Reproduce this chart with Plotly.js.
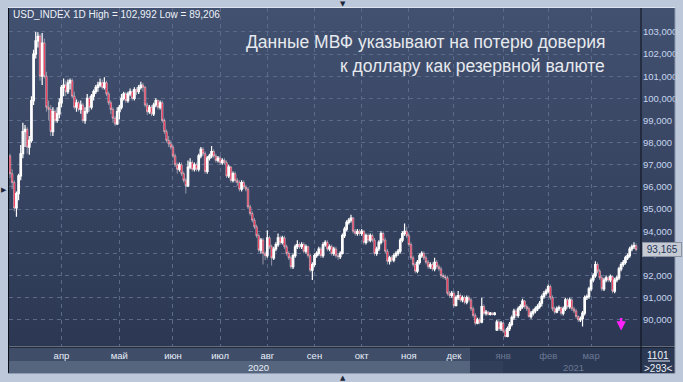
<!DOCTYPE html>
<html><head><meta charset="utf-8">
<script src="https://cdn.plot.ly/plotly-3.0.1.min.js"></script>
<style>html,body{margin:0;padding:0;background:#bdc9da;overflow:hidden}#chart{width:683px;height:382px}</style>
</head><body><div id="chart"></div>
<script>
const closes = [
96.6,96.2,95.05,95.7,96.5,97.5,98.5,98.6,97.8,98.1,
99.9,102.0,102.6,102.8,101.0,102.5,101.0,99.6,99.5,98.5,
99.4,99.0,99.3,99.8,100.5,100.6,100.3,100.7,100.8,100.1,
99.6,99.8,99.5,99.7,99.0,99.4,100.0,99.6,100.1,100.3,
100.5,100.6,100.7,100.5,100.7,100.2,99.8,99.5,99.1,98.85,
99.4,99.6,100.0,100.2,99.9,100.2,100.3,100.0,100.4,100.3,
100.5,100.6,100.5,99.7,99.4,99.6,99.3,99.7,99.9,99.6,
99.8,99.0,98.5,98.1,97.95,97.8,97.4,97.0,96.8,97.0,
96.6,96.3,96.05,96.9,97.1,96.8,97.0,96.8,97.4,97.7,
97.5,96.7,97.3,97.4,97.6,97.4,97.2,97.3,97.1,97.2,
97.1,96.5,96.9,96.3,96.6,96.3,96.2,95.9,96.2,96.0,
95.9,95.1,94.8,94.5,94.2,93.8,93.15,93.6,93.0,92.9,
93.7,93.3,92.8,93.2,93.4,93.7,93.5,93.7,93.3,93.0,
92.8,92.4,92.9,93.3,93.4,93.3,93.4,93.1,93.3,92.9,
92.25,92.5,92.9,93.0,93.2,92.9,93.4,93.5,93.2,93.3,
93.0,93.2,92.9,92.85,93.0,93.8,94.1,94.4,94.5,94.6,
94.0,93.9,94.0,93.9,94.0,93.5,93.8,93.6,93.8,93.6,
93.0,93.2,93.5,93.9,93.6,93.1,92.65,92.8,92.7,92.9,
93.0,93.1,93.6,93.9,94.0,93.8,93.4,92.8,92.5,92.2,
92.6,92.9,93.0,92.8,92.6,92.4,92.5,92.3,92.6,92.4,
92.3,92.0,91.95,91.9,91.2,91.1,91.2,90.65,91.0,91.1,
90.9,91.0,90.8,91.0,90.9,90.5,90.2,89.85,90.0,89.9,
90.6,90.3,90.35,90.25,90.3,90.25,90.3,89.9,89.6,89.85,
89.5,89.25,89.6,89.8,90.1,90.4,90.2,90.5,90.6,90.85,
90.6,90.5,90.15,90.3,90.4,90.5,90.6,90.75,91.05,91.2,
91.3,91.5,91.0,90.5,90.35,90.5,90.55,90.3,90.5,90.9,
90.6,90.9,90.5,90.4,90.15,90.0,90.05,90.3,91.0,91.05,
91.4,91.8,92.0,92.5,92.2,91.9,91.4,91.8,91.9,91.8,
91.95,91.3,91.8,91.9,92.3,92.5,92.6,92.8,92.9,93.2,
93.3,93.35,93.165];
const opens = [
97.4,96.6,96.2,95.05,95.7,96.5,97.5,98.5,98.6,97.8,
98.1,99.9,102.0,102.6,102.8,101.0,102.5,101.0,99.6,99.5,
98.5,99.4,99.0,99.3,99.8,100.5,100.6,100.3,100.7,100.8,
100.1,99.6,99.8,99.5,99.7,99.0,99.4,100.0,99.6,100.1,
100.3,100.5,100.6,100.7,100.5,100.7,100.2,99.8,99.5,99.1,
98.85,99.4,99.6,100.0,100.2,99.9,100.2,100.3,100.0,100.4,
100.3,100.5,100.6,100.5,99.7,99.4,99.6,99.3,99.7,99.9,
99.6,99.8,99.0,98.5,98.1,97.95,97.8,97.4,97.0,96.8,
97.0,96.6,96.3,96.05,96.9,97.1,96.8,97.0,96.8,97.4,
97.7,97.5,96.7,97.3,97.4,97.6,97.4,97.2,97.3,97.1,
97.2,97.1,96.5,96.9,96.3,96.6,96.3,96.2,95.9,96.2,
96.0,95.9,95.1,94.8,94.5,94.2,93.8,93.15,93.6,93.0,
92.9,93.7,93.3,92.8,93.2,93.4,93.7,93.5,93.7,93.3,
93.0,92.8,92.4,92.9,93.3,93.4,93.3,93.4,93.1,93.3,
92.9,92.25,92.5,92.9,93.0,93.2,92.9,93.4,93.5,93.2,
93.3,93.0,93.2,92.9,92.85,93.0,93.8,94.1,94.4,94.5,
94.6,94.0,93.9,94.0,93.9,94.0,93.5,93.8,93.6,93.8,
93.6,93.0,93.2,93.5,93.9,93.6,93.1,92.65,92.8,92.7,
92.9,93.0,93.1,93.6,93.9,94.0,93.8,93.4,92.8,92.5,
92.2,92.6,92.9,93.0,92.8,92.6,92.4,92.5,92.3,92.6,
92.4,92.3,92.0,91.95,91.9,91.2,91.1,91.2,90.65,91.0,
91.1,90.9,91.0,90.8,91.0,90.9,90.5,90.2,89.85,90.0,
89.9,90.6,90.3,90.35,90.25,90.3,90.25,89.55,89.9,89.6,
89.85,89.5,89.25,89.6,89.8,90.1,90.4,90.2,90.5,90.6,
90.85,90.6,90.5,90.15,90.3,90.4,90.5,90.6,90.75,91.05,
91.2,91.3,91.5,91.0,90.5,90.35,90.5,90.55,90.3,90.5,
90.9,90.6,90.9,90.5,90.4,90.15,90.0,90.05,90.3,91.0,
91.05,91.4,91.8,92.0,92.5,92.2,91.9,91.4,91.8,91.9,
91.8,91.95,91.3,91.8,91.9,92.3,92.5,92.6,92.8,92.9,
93.2,93.3,93.35];
const highs = [
97.5,96.8,96.3,95.8,96.6,97.9,98.9,98.8,98.7,98.3,
100.1,102.2,102.992,102.99,102.9,102.95,102.7,101.2,99.9,99.7,
99.6,99.5,99.6,100.0,100.6,100.9,100.8,100.85,100.9,100.9,
100.3,99.95,99.9,99.9,99.8,99.6,100.2,100.1,100.2,100.4,
100.6,100.75,100.9,100.85,100.95,100.8,100.3,99.9,99.6,99.2,
99.6,99.7,100.2,100.3,100.3,100.3,100.45,100.4,100.5,100.5,
100.6,100.75,100.7,100.55,99.8,99.7,99.7,99.8,100.0,99.95,
99.9,99.9,99.1,98.6,98.3,98.1,97.9,97.5,97.1,97.1,
97.1,96.7,96.4,97.2,97.3,97.2,97.1,97.1,97.5,97.8,
97.8,97.6,97.4,97.5,97.85,97.7,97.5,97.4,97.4,97.3,
97.3,97.2,97.0,96.95,96.7,96.7,96.4,96.3,96.3,96.3,
96.1,96.0,95.2,94.9,94.6,94.3,93.9,93.7,93.7,93.1,
94.05,93.8,93.4,93.3,93.5,93.9,93.8,93.8,93.8,93.4,
93.1,92.9,93.0,93.4,93.6,93.5,93.5,93.5,93.4,93.35,
93.0,92.6,93.0,93.1,93.3,93.3,93.5,93.6,93.6,93.4,
93.4,93.3,93.3,93.0,93.1,93.9,94.2,94.5,94.6,94.75,
94.65,94.1,94.1,94.1,94.1,94.05,93.9,93.9,93.9,93.9,
93.7,93.3,93.6,94.0,94.0,93.7,93.2,92.9,92.9,93.0,
93.1,93.2,93.7,94.0,94.35,94.2,93.9,93.5,92.9,92.6,
92.7,93.0,93.1,93.1,92.9,92.7,92.6,92.6,92.8,92.7,
92.5,92.4,92.1,92.05,92.0,91.3,91.3,91.3,91.1,91.3,
91.2,91.1,91.1,91.1,91.1,91.0,90.6,90.3,90.1,90.1,
91.0,90.7,90.45,90.4,90.35,90.35,90.35,90.0,90.0,89.95,
89.9,89.6,89.7,89.9,90.2,90.5,90.5,90.6,90.7,90.95,
90.9,90.7,90.6,90.4,90.5,90.6,90.7,90.85,91.15,91.3,
91.4,91.6,91.6,91.1,90.6,90.6,90.65,90.6,90.6,91.0,
91.0,91.0,91.0,90.6,90.5,90.2,90.15,90.4,91.1,91.15,
91.5,91.9,92.1,92.65,92.6,92.3,92.0,91.9,92.0,92.0,
92.05,92.0,91.9,92.0,92.4,92.6,92.7,92.9,93.0,93.3,
93.4,93.5,93.45];
const lows = [
96.4,95.9,94.9,94.65,95.4,96.3,97.3,97.8,97.5,97.45,
98.0,99.7,101.8,102.3,100.8,100.6,100.9,99.4,99.0,98.3,
98.3,98.9,98.9,99.1,99.6,100.1,100.1,100.2,100.4,100.0,
99.5,99.4,99.4,99.3,98.9,98.85,99.3,99.4,99.5,99.9,
100.2,100.3,100.5,100.4,100.4,100.1,99.7,99.3,98.9,98.75,
98.8,99.05,99.5,99.9,99.8,99.8,100.1,99.9,99.9,100.15,
100.2,100.4,100.3,99.6,99.25,99.3,99.2,99.2,99.6,99.5,
99.5,98.9,98.4,98.0,97.8,97.7,97.3,96.9,96.6,96.7,
96.5,96.2,95.7,96.0,96.8,96.7,96.7,96.7,96.7,97.3,
97.4,96.6,96.6,97.2,97.3,97.3,97.1,97.1,97.0,97.0,
97.0,96.4,96.4,96.2,96.2,96.2,96.05,95.8,95.8,95.9,
95.8,95.0,94.7,94.4,94.1,93.7,93.05,93.0,92.5,92.7,
92.8,93.2,92.45,92.7,93.1,93.3,93.4,93.4,93.2,92.9,
92.7,92.3,92.3,92.8,93.2,93.2,93.2,93.0,93.0,92.8,
92.15,91.8,92.4,92.8,92.9,92.8,92.8,93.3,93.1,93.1,
92.9,92.9,92.8,92.7,92.75,92.95,93.7,94.0,94.3,94.4,
93.9,93.8,93.8,93.8,93.8,93.4,93.4,93.5,93.5,93.5,
92.9,92.9,93.1,93.4,93.5,93.0,92.5,92.5,92.6,92.6,
92.8,92.9,93.0,93.5,93.8,93.7,93.3,92.7,92.4,92.1,
92.1,92.5,92.8,92.7,92.5,92.3,92.3,92.2,92.2,92.3,
92.2,91.9,91.85,91.8,91.1,91.0,91.0,90.55,90.6,90.9,
90.8,90.8,90.7,90.7,90.8,90.4,90.1,89.75,89.8,89.8,
89.85,90.2,90.2,90.2,90.2,90.2,90.2,89.5,89.5,89.5,
89.4,89.206,89.22,89.5,89.7,90.0,90.1,90.1,90.4,90.5,
90.5,90.4,90.1,90.05,90.2,90.3,90.4,90.5,90.6,90.95,
91.1,91.2,90.9,90.4,90.25,90.3,90.4,90.2,90.2,90.4,
90.5,90.5,90.4,90.3,90.05,89.9,89.9,89.7,90.2,90.9,
90.95,91.3,91.7,91.9,92.1,91.8,91.3,91.3,91.7,91.7,
91.7,91.2,91.2,91.7,91.8,92.2,92.4,92.5,92.7,92.8,
93.1,93.2,93.1];

const monthTickIdx = [24,51,76,98,120,142,164,186,207,230,251,271];
const monthLabels = ['апр','май','июн','июл','авг','сен','окт','ноя','дек','янв','фев','мар'];
const yearLabels = ['2020','2021'];
const yTickVals = [90,91,92,93,94,95,96,97,98,99,100,101,102,103];
const yTickText = ['90,000','91,000','92,000','93,000','94,000','95,000','96,000','97,000','98,000','99,000','100,000','101,000','102,000','103,000'];
const lastPrice = 93.165;
const lastPriceText = '93,165';
const headerText = 'USD_INDEX 1D High = 102,992 Low = 89,206';
const titleLines = ['Данные МВФ указывают на потерю доверия','к доллару как резервной валюте'];
const signalIdx = 285, signalPrice = 89.52;

const xs = closes.map((_, i) => i);

const PX0 = 9, PX1 = 640, PY0 = 8, PY1 = 346;
const px = v => (v - PX0) / (PX1 - PX0);
const py = v => (PY1 - v) / (PY1 - PY0);

const font = 'Liberation Sans, Arial, sans-serif';
const dim = '#6b7893';
const ticktext = monthLabels.map((m, k) => k >= 9 ? `<span style="color:${dim}">${m}</span>` : m);

const svg = "<svg xmlns='http://www.w3.org/2000/svg' width='10' height='100' preserveAspectRatio='none'><defs><linearGradient id='g' x1='0' y1='0' x2='0' y2='1'><stop offset='0' stop-color='#425170'/><stop offset='1' stop-color='#2c3853'/></linearGradient></defs><rect width='10' height='100' fill='url(#g)'/></svg>";
const gradSrc = 'data:image/svg+xml;charset=utf-8,' + encodeURIComponent(svg);

const rect = (x0, x1, y0, y1, color, layer) => ({type:'rect', xref:'paper', yref:'paper',
  x0: px(x0), x1: px(x1), y0: py(y1), y1: py(y0), fillcolor: color, line:{width:0}, layer: layer || 'below'});
const line = (x0, y0, x1, y1, color, w) => ({type:'line', xref:'paper', yref:'paper',
  x0: px(x0), x1: px(x1), y0: py(y0), y1: py(y1), line:{color: color, width: w || 1}, layer:'above'});

const shapes = [
  rect(9, 470, 347, 361, '#3f4d69'),
  rect(9, 470, 361, 373, '#56657e'),
  rect(470, 641, 347, 373, '#2c3954'),
  rect(470, 503, 361, 373, '#323f5a'),
  rect(641, 675, 347, 373, '#2c3954'),
  line(8, 7.5, 675, 7.5, '#dfe5ee'),
  line(8.5, 8, 8.5, 373, '#0b0f18'),
  line(8, 347, 675, 347, '#0b0f18'),
  line(641, 8, 641, 373, '#0b0f18'),
  line(675, 8, 675, 373, '#8e9bb0'),
  line(8, 373.5, 675, 373.5, '#8e9bb0'),
  line(648, 361, 670, 361, '#dfe6f2'),
];

const ann = (x, y, text, opts) => Object.assign({xref:'paper', yref:'paper', x: px(x), y: py(y), text: text,
  showarrow:false, xanchor:'center', yanchor:'middle', font:{family:font, size:9, color:'#e8eef8'}}, opts || {});

const annotations = [
  ann(11, 15, headerText, {xanchor:'left', font:{family:font, size:10, color:'#eef2f8'}}),
  ann(607, 42, titleLines[0], {xanchor:'right', font:{family:font, size:17.5, color:'#e6e9ee'}}),
  ann(607, 66, titleLines[1], {xanchor:'right', font:{family:font, size:17.5, color:'#e6e9ee'}}),
  ann(258, 367, yearLabels[0], {font:{family:font, size:9.5, color:'#e8eef8'}}),
  ann(573, 367, yearLabels[1], {font:{family:font, size:9.5, color:dim}}),
  ann(658, 355, '1101', {font:{family:font, size:10, color:'#eef2f8'}}),
  ann(658, 368, '&gt;293&lt;', {font:{family:font, size:10, color:'#eef2f8'}}),
  ann(343, 3.5, '▼', {font:{family:'DejaVu Sans', size:7, color:'#1d2638'}}),
  ann(343, 378, '▲', {font:{family:'DejaVu Sans', size:7, color:'#1d2638'}}),
  ann(3.5, 190, '▶', {font:{family:'DejaVu Sans', size:7, color:'#1d2638'}}),
  {xref:'paper', yref:'y', x: px(642), y: lastPrice, text: '&nbsp;' + lastPriceText + '&nbsp;', showarrow:false,
   xanchor:'left', yanchor:'middle', bgcolor:'#c6cad2', bordercolor:'#8a93a3', borderwidth:1, borderpad:1,
   font:{family:font, size:10, color:'#22345a'}},
  {xref:'x', yref:'y', x: signalIdx, y: signalPrice, text:'', showarrow:true, ax:0, ay:-14,
   arrowcolor:'#ff22ff', arrowwidth:2.5, arrowhead:2, arrowsize:0.75}
];

const trace = {
  type:'candlestick', x: xs, open: opens, high: highs, low: lows, close: closes,
  increasing:{line:{color:'#ffffff', width:1.2}, fillcolor:'#ffffff'},
  decreasing:{line:{color:'#f4e6ea', width:0.5}, fillcolor:'#ee1238'},
  whiskerwidth:0, hoverinfo:'skip', showlegend:false
};

const grid = '#5b6a89';
const layout = {
  width:683, height:382,
  margin:{l:PX0, r:683-PX1, t:PY0, b:382-PY1, pad:0},
  paper_bgcolor:'#bdc9da', plot_bgcolor:'rgba(0,0,0,0)',
  showlegend:false, boxgap:0,
  font:{family:font},
  xaxis:{range:[-0.47, 293.8], tickvals: monthTickIdx, ticktext: ticktext, showgrid:true,
    gridcolor:grid, griddash:'4px,4px', gridwidth:1, zeroline:false, showline:false, ticks:'',
    tickfont:{family:font, size:9.5, color:'#e8eef8'}, rangeslider:{visible:false}, fixedrange:true,
    ticklabelstandoff:2},
  yaxis:{side:'right', range:[88.82, 104.08], tickvals:yTickVals, ticktext:yTickText, showgrid:true,
    gridcolor:grid, griddash:'4px,4px', gridwidth:1, zeroline:false, showline:false, ticks:'',
    tickfont:{family:font, size:9.5, color:'#c6d5ee'}, fixedrange:true, ticklabelstandoff:2},
  images:[{source: gradSrc, xref:'paper', yref:'paper', x: px(9), y: 1, sizex: px(675) - px(9), sizey: 1,
    xanchor:'left', yanchor:'top', sizing:'stretch', layer:'below'}],
  shapes: shapes, annotations: annotations
};

Plotly.newPlot('chart', [trace], layout, {staticPlot:true, displayModeBar:false});
</script></body></html>
